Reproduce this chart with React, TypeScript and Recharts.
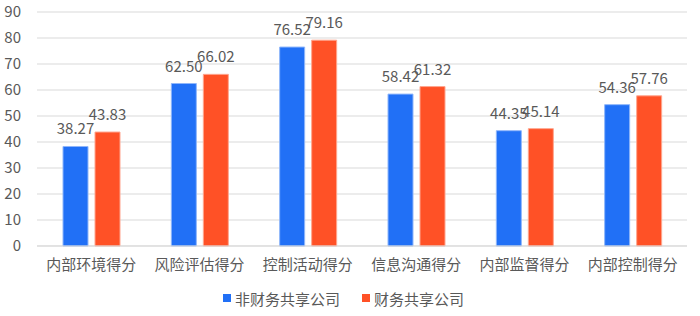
import { BarChart, Bar, XAxis, YAxis, CartesianGrid, Legend, LabelList } from 'recharts'

const categories = ['内部环境得分', '风险评估得分', '控制活动得分', '信息沟通得分', '内部监督得分', '内部控制得分']
const nonShared = [38.27, 62.5, 76.52, 58.42, 44.35, 54.36]
const shared = [43.83, 66.02, 79.16, 61.32, 45.14, 57.76]
const yTicks = [0, 10, 20, 30, 40, 50, 60, 70, 80, 90]
const seriesNames = ['非财务共享公司', '财务共享公司']

const BLUE = '#2170F6'
const ORANGE = '#FF5126'
const TEXT = '#595959'
const FONT = '"Noto Sans CJK SC", "Noto Sans", sans-serif'

const data = categories.map((name, i) => ({ name, nonShared: nonShared[i], shared: shared[i] }))

const CustomLegend = () => (
  <div style={{ display: 'flex', justifyContent: 'center', alignItems: 'center', height: 30, fontFamily: FONT, fontSize: 15, color: TEXT }}>
    {seriesNames.map((name, i) => (
      <div key={name} style={{ display: 'flex', alignItems: 'center', marginRight: i === 0 ? 22 : 0 }}>
        <span style={{ width: 8, height: 8, background: i === 0 ? BLUE : ORANGE, display: 'inline-block', marginRight: 4 }} />
        <span>{name}</span>
      </div>
    ))}
  </div>
)

export default function App() {
  return (
    <div style={{ position: 'absolute', left: 0, top: 0, width: 700, height: 316, background: '#fff' }}>
      <BarChart
        width={700}
        height={316}
        data={data}
        margin={{ top: 12, right: 13, left: 0, bottom: 3 }}
        barSize={25}
        barGap={7}
      >
        <CartesianGrid vertical={false} stroke="#D9D9D9" />
        <XAxis
          dataKey="name"
          height={37}
          tickLine={false}
          axisLine={{ stroke: '#D9D9D9' }}
          tickMargin={7}
          tick={{ fontSize: 15, fill: TEXT, fontFamily: FONT }}
          interval={0}
        />
        <YAxis
          width={37}
          domain={[0, 90]}
          ticks={yTicks}
          interval={0}
          tickLine={false}
          axisLine={false}
          tickMargin={10}
          tick={{ fontSize: 15, fill: TEXT, fontFamily: FONT }}
        />
        <Legend verticalAlign="bottom" height={30} content={<CustomLegend />} />
        <Bar dataKey="nonShared" name={seriesNames[0]} fill={BLUE} stroke="#8FB6FA" strokeWidth={1} isAnimationActive={false}>
          <LabelList dataKey="nonShared" position="top" offset={12} formatter={(v: number) => v.toFixed(2)} style={{ fontSize: 15, fill: TEXT, fontFamily: FONT }} />
        </Bar>
        <Bar dataKey="shared" name={seriesNames[1]} fill={ORANGE} stroke="#FFA68F" strokeWidth={1} isAnimationActive={false}>
          <LabelList dataKey="shared" position="top" offset={12} formatter={(v: number) => v.toFixed(2)} style={{ fontSize: 15, fill: TEXT, fontFamily: FONT }} />
        </Bar>
      </BarChart>
    </div>
  )
}
